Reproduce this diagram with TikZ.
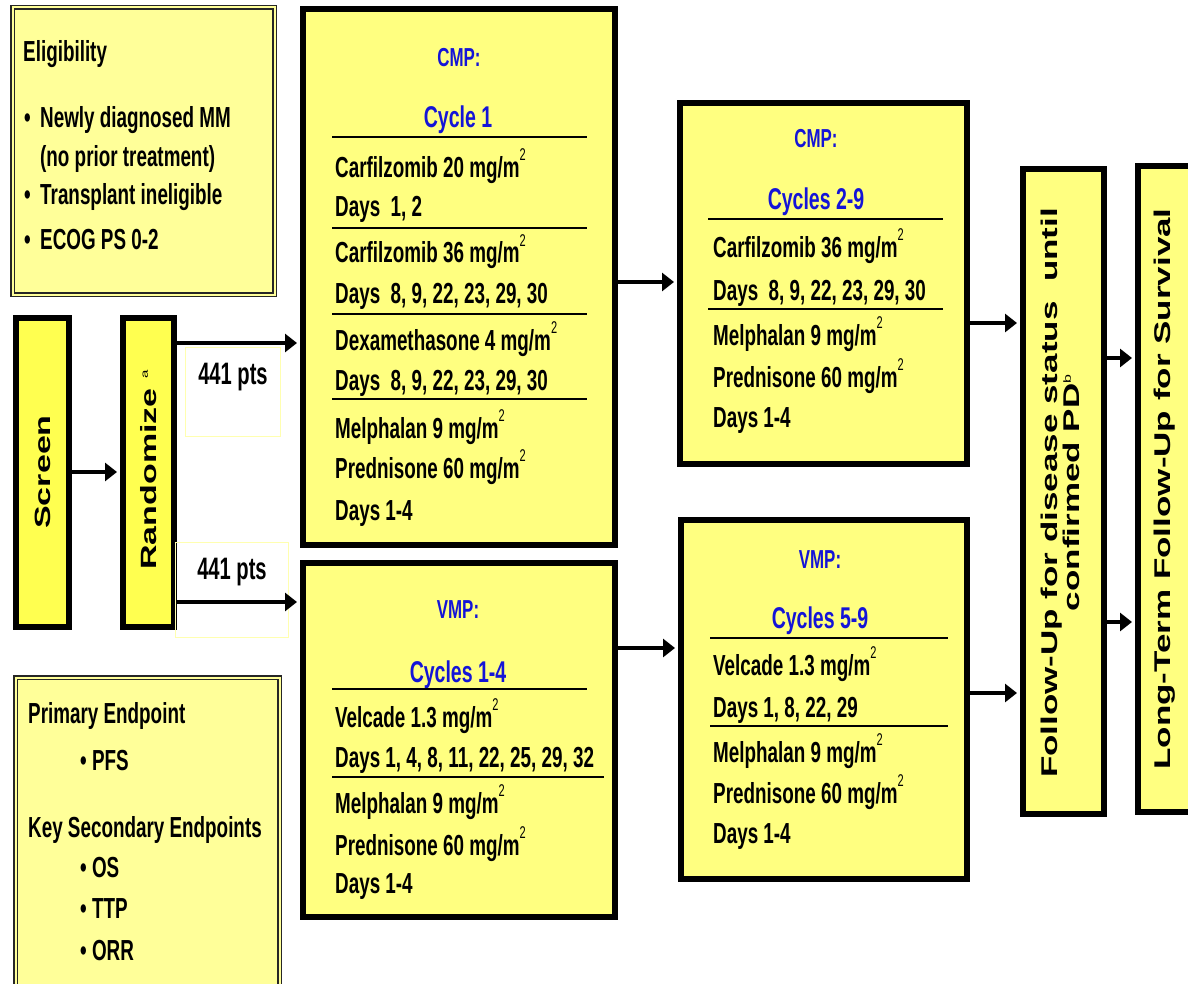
\documentclass[tikz,border=0pt]{standalone}
\usepackage{fontspec}
\usepackage{graphicx}
\setmainfont{Liberation Sans}[FakeStretch=0.65]
\newfontfamily\rotfont{Liberation Sans}
\usetikzlibrary{arrows.meta}
\definecolor{ty}{HTML}{FFFF80}
\definecolor{by}{HTML}{FFFF50}
\definecolor{ly}{HTML}{FFFF99}
\definecolor{ttlblue}{RGB}{20,20,215}
\definecolor{faint}{HTML}{FFFFB0}
\newcommand{\msq}{\raisebox{17pt}{\mdseries\fontsize{17}{17}\selectfont 2}}
\tikzset{
  tbox/.style={draw=black, line width=6pt, fill=ty, inner sep=0pt},
  sbox/.style={draw=black, line width=6pt, fill=by, inner sep=0pt},
  dbox/.style={draw=black!85, line width=1.6pt, double=ly, double distance=2pt, fill=ly, inner sep=0pt},
  body/.style={anchor=base west, inner sep=0pt, font=\fontsize{29}{34}\selectfont\bfseries},
  ttl/.style={anchor=base, inner sep=0pt, text=ttlblue, font=\fontsize{30}{34}\selectfont\bfseries},
  ttls/.style={anchor=base, inner sep=0pt, text=ttlblue, font=\fontsize{26}{30}\selectfont\bfseries},
  rot/.style={rotate=90, inner sep=0pt, font=\rotfont\bfseries\fontsize{34}{36}\selectfont},
  arr/.style={line width=3.5pt, -{Triangle[length=12pt,width=18pt]}, shorten >=3pt},
  sep/.style={line width=2pt},
  pts/.style={inner sep=0pt, font=\fontsize{31}{34}\selectfont\bfseries},
  ghost/.style={draw=faint, line width=1pt, inner sep=0pt}
}
\begin{document}
\begin{tikzpicture}[x=1pt,y=-1pt]
\useasboundingbox (0,0) rectangle (1188,984);
\clip (0,0) rectangle (1188,984);
\fill[white] (0,0) rectangle (1188,984);

% ---------- left column ----------
\node[dbox, minimum width=262, minimum height=287] (elig) at (143.5,151) {};
\node[body] (e0) at (23,62) {Eligibility};
\node[body] (e1b) at (24,128) {•};
\node[body] (e1) at (40,128) {Newly diagnosed MM};
\node[body] (e2) at (40,167) {(no prior treatment)};
\node[body] (e3b) at (24,205) {•};
\node[body] (e3) at (40,205) {Transplant ineligible};
\node[body] (e4b) at (24,250) {•};
\node[body] (e4) at (40,250) {ECOG PS 0-2};

\node[dbox, minimum width=264, minimum height=325] (endp) at (147.5,840) {};
\node[body] (p0) at (28,723) {Primary Endpoint};
\node[body] (p1) at (80,770) {• PFS};
\node[body] (p2) at (28,837) {Key Secondary Endpoints};
\node[body] (p3) at (80,877) {• OS};
\node[body] (p4) at (80,918) {• TTP};
\node[body] (p5) at (80,960) {• ORR};

\node[sbox, minimum width=53, minimum height=309] (screen) at (42.5,472.5) {};
\node[rot] (screent) at (43,472) {\scalebox{1}[0.65]{Screen}};
\node[sbox, minimum width=51, minimum height=309] (rand) at (148.5,472.5) {};
\node[rot] (randt) at (149,470) {\scalebox{1}[0.65]{Randomize\ \raisebox{14pt}{\mdseries\fontsize{15}{15}\selectfont a}}};

\node[ghost, minimum width=95, minimum height=89] (g1) at (232.5,392) {};
\node[ghost, minimum width=113, minimum height=95] (g2) at (232,589.5) {};
\node[pts] (n1) at (233,377) {441 pts};
\node[pts] (n2) at (232,572) {441 pts};

% ---------- CMP cycle 1 ----------
\node[tbox, minimum width=312, minimum height=536] (cmp1) at (459,277) {};
\node[ttls] (c1h) at (459,67) {CMP:};
\node[ttl] (c1c) at (458,128) {Cycle 1};
\draw[sep] (332,137) -- (587,137);
\node[body] (c1a) at (335,178) {Carfilzomib 20 mg/m\msq};
\node[body] (c1b) at (335,217) {Days\ \ 1, 2};
\draw[sep] (332,228) -- (587,228);
\node[body] (c1d) at (335,263) {Carfilzomib 36 mg/m\msq};
\node[body] (c1e) at (335,303) {Days\ \ 8, 9, 22, 23, 29, 30};
\draw[sep] (332,314) -- (587,314);
\node[body] (c1f) at (335,350) {Dexamethasone 4 mg/m\msq};
\node[body] (c1g) at (335,390) {Days\ \ 8, 9, 22, 23, 29, 30};
\draw[sep] (332,399) -- (587,399);
\node[body] (c1i) at (335,438) {Melphalan 9 mg/m\msq};
\node[body] (c1j) at (335,478) {Prednisone 60 mg/m\msq};
\node[body] (c1k) at (335,520) {Days 1-4};

% ---------- VMP cycles 1-4 ----------
\node[tbox, minimum width=312, minimum height=354] (vmp1) at (459,740) {};
\node[ttls] (v1h) at (458,618) {VMP:};
\node[ttl] (v1c) at (458,682) {Cycles 1-4};
\draw[sep] (332,689) -- (587,689);
\node[body] (v1a) at (335,727) {Velcade 1.3 mg/m\msq};
\node[body] (v1b) at (335,767) {Days 1, 4, 8, 11, 22, 25, 29, 32};
\draw[sep] (332,777) -- (604,777);
\node[body] (v1d) at (335,813) {Melphalan 9 mg/m\msq};
\node[body] (v1e) at (335,855) {Prednisone 60 mg/m\msq};
\node[body] (v1f) at (335,893) {Days 1-4};

% ---------- CMP cycles 2-9 ----------
\node[tbox, minimum width=287, minimum height=361] (cmp2) at (823.5,283.5) {};
\node[ttls] (c2h) at (816,148) {CMP:};
\node[ttl] (c2c) at (816,210) {Cycles 2-9};
\draw[sep] (708,219) -- (943,219);
\node[body] (c2a) at (713,258) {Carfilzomib 36 mg/m\msq};
\node[body] (c2b) at (713,300) {Days\ \ 8, 9, 22, 23, 29, 30};
\draw[sep] (708,309) -- (943,309);
\node[body] (c2d) at (713,345) {Melphalan 9 mg/m\msq};
\node[body] (c2e) at (713,387) {Prednisone 60 mg/m\msq};
\node[body] (c2f) at (713,427) {Days 1-4};

% ---------- VMP cycles 5-9 ----------
\node[tbox, minimum width=286, minimum height=359] (vmp2) at (824,699.5) {};
\node[ttls] (v2h) at (820,568) {VMP:};
\node[ttl] (v2c) at (820,628) {Cycles 5-9};
\draw[sep] (710,638) -- (948,638);
\node[body] (v2a) at (713,675) {Velcade 1.3 mg/m\msq};
\node[body] (v2b) at (713,717) {Days 1, 8, 22, 29};
\draw[sep] (710,726) -- (948,726);
\node[body] (v2d) at (713,762) {Melphalan 9 mg/m\msq};
\node[body] (v2e) at (713,803) {Prednisone 60 mg/m\msq};
\node[body] (v2f) at (713,843) {Days 1-4};

% ---------- follow-up ----------
\node[tbox, minimum width=81, minimum height=645] (fu) at (1063.5,491.5) {};
\node[rot, font=\rotfont\bfseries\fontsize{35}{34}\selectfont] (fut) at (1064,493) {\scalebox{1}[0.65]{\begin{tabular}{@{}c@{}}Follow-Up for disease status\ \ until\\[-2pt] confirmed PD\raisebox{14pt}{\mdseries\fontsize{16}{16}\selectfont b}\end{tabular}}};
\node[tbox, minimum width=90, minimum height=646] (lt) at (1183,489) {};
\node[rot, font=\rotfont\bfseries\fontsize{35}{36}\selectfont] (ltt) at (1165,489) {\scalebox{1}[0.65]{Long-Term Follow-Up for Survival}};

% ---------- connectors ----------
\coordinate (y472) at (0,472);
\coordinate (y343) at (0,343);
\coordinate (y602) at (0,602);
\coordinate (y282) at (0,282);
\coordinate (y648) at (0,648);
\coordinate (y323) at (0,323);
\coordinate (y693) at (0,693);
\coordinate (y358) at (0,358);
\coordinate (y622) at (0,622);
\draw[arr] (screen.east |- y472) -- (rand.west |- y472);
\draw[arr] (rand.east |- y343) -- (cmp1.west |- y343);
\draw[arr] (rand.east |- y602) -- (vmp1.west |- y602);
\draw[arr] (cmp1.east |- y282) -- (cmp2.west |- y282);
\draw[arr] (vmp1.east |- y648) -- (vmp2.west |- y648);
\draw[arr] (cmp2.east |- y323) -- (fu.west |- y323);
\draw[arr] (vmp2.east |- y693) -- (fu.west |- y693);
\draw[arr] (fu.east |- y358) -- (lt.west |- y358);
\draw[arr] (fu.east |- y622) -- (lt.west |- y622);
\end{tikzpicture}
\end{document}
